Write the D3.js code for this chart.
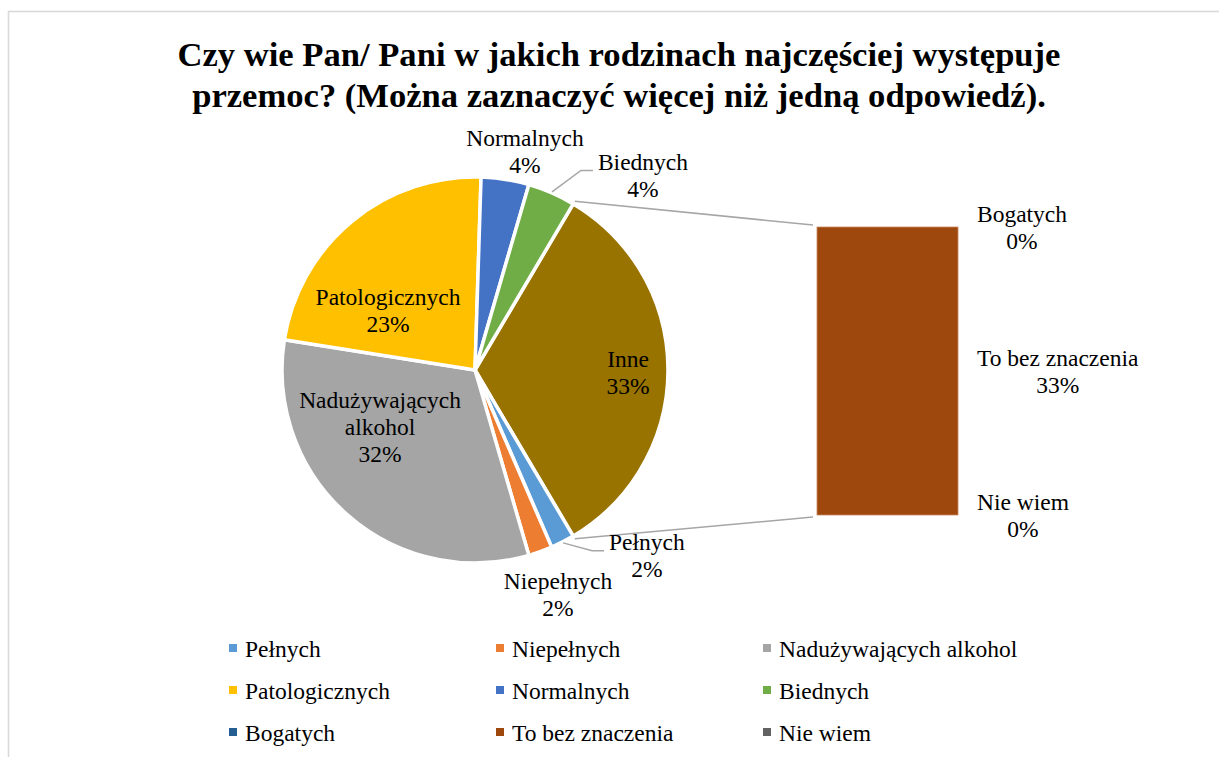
<!DOCTYPE html>
<html>
<head>
<meta charset="utf-8">
<script src="https://cdn.jsdelivr.net/npm/d3@7"></script>
</head>
<body style="margin:0">
<script>
// data (percent)
var pieCats = ["Inne", "Pełnych", "Niepełnych", "Nadużywających alkohol", "Patologicznych", "Normalnych", "Biednych"]
var pieVals = [33, 2, 2, 32, 23, 4, 4]
var barCats = ["Bogatych", "To bez znaczenia", "Nie wiem"]
var barVals = [0, 33, 0]
var legendCats = ["Pełnych", "Niepełnych", "Nadużywających alkohol", "Patologicznych", "Normalnych", "Biednych", "Bogatych", "To bez znaczenia", "Nie wiem"]

var colors = {
  "Pełnych": "#5B9BD5", "Niepełnych": "#ED7D31", "Nadużywających alkohol": "#A5A5A5",
  "Patologicznych": "#FFC000", "Normalnych": "#4472C4", "Biednych": "#70AD47",
  "Bogatych": "#255E91", "To bez znaczenia": "#9E480E", "Nie wiem": "#636363", "Inne": "#997300"
}

// label placement: [angle shift from slice middle (deg), radius factor]
var labelLayout = {
  "Inne": [0.9, 0.793], "Pełnych": [-15.8, 1.311], "Niepełnych": [-0.5, 1.24],
  "Nadużywających alkohol": [17.6, 0.574], "Patologicznych": [-16, 0.546],
  "Normalnych": [3.9, 1.159], "Biednych": [17.4, 1.332]
}
var labelLines = { "Nadużywających alkohol": ["Nadużywających", "alkohol"] }
var leaders = ["Pełnych", "Biednych"]

var FONT = "'Liberation Serif'"
var W = 1219, H = 757
var cx = 475, cy = 370, R = 193
var lineH = 27, fs = 23.5

// text width without touching svg layout
var ctx = document.createElement("canvas").getContext("2d")
ctx.font = fs + "px 'Liberation Serif', serif"
function textW(s) { return ctx.measureText(s).width }

var svg = d3.select("body").append("svg")
    .attr("width", W).attr("height", H)

svg.append("rect")
    .attr("x", 8.5).attr("y", 11.5).attr("width", 1400).attr("height", 1000)
    .attr("fill", "none").attr("stroke", "#d9d9d9").attr("stroke-width", 1.6)

// title
var title = svg.append("text")
    .attr("text-anchor", "middle")
    .attr("font-family", FONT)
    .attr("font-size", 34.6).attr("font-weight", "bold")
title.append("tspan").attr("x", 619).attr("y", 66).text("Czy wie Pan/ Pani w jakich rodzinach najczęściej występuje")
title.append("tspan").attr("x", 619).attr("y", 107).text("przemoc? (Można zaznaczyć więcej niż jedną odpowiedź).")

var total = d3.sum(pieVals)
var a0 = Math.PI / 2 - Math.PI * pieVals[0] / total

var pie = d3.pie().sort(null).startAngle(a0).endAngle(a0 + 2 * Math.PI)
var arcs = pie(pieVals)
arcs.forEach(function(a, i) { a.name = pieCats[i] })

var arc = d3.arc().innerRadius(0).outerRadius(R)

var g = svg.append("g").attr("transform", "translate(" + cx + "," + cy + ")")

g.selectAll("path.slice")
  .data(arcs)
  .enter().append("path")
    .attr("class", "slice")
    .attr("d", arc)
    .attr("fill", function(d) { return colors[d.name] })
    .attr("stroke", "#fff")
    .attr("stroke-width", 3.5)
    .attr("stroke-linejoin", "round")

function polar(angle, r) {
  return [r * Math.sin(angle), -r * Math.cos(angle)]
}

// bar of the "Inne" group
var barX = d3.scaleBand().domain(["Inne"]).range([817, 958])
var barY = d3.scaleLinear().domain([0, d3.sum(barVals)]).range([515, 227])

var ends = d3.cumsum(barVals.slice().reverse()).reverse()
var segs = barCats.map(function(c, i) {
  return { name: c, value: barVals[i], y1: ends[i], y0: ends[i] - barVals[i] }
})

// connector lines
var inne = arcs[0]
var pTop = polar(inne.startAngle, R + 3), pBot = polar(inne.endAngle, R + 3)
svg.append("line")
    .attr("x1", cx + pTop[0]).attr("y1", cy + pTop[1])
    .attr("x2", barX("Inne") - 4).attr("y2", barY.range()[1] - 2)
    .attr("stroke", "#a6a6a6").attr("stroke-width", 1.5)
svg.append("line")
    .attr("x1", cx + pBot[0]).attr("y1", cy + pBot[1])
    .attr("x2", barX("Inne") - 4).attr("y2", barY.range()[0] + 2)
    .attr("stroke", "#a6a6a6").attr("stroke-width", 1.5)

svg.selectAll("rect.seg")
  .data(segs)
  .enter().append("rect")
    .attr("class", "seg")
    .attr("x", barX("Inne"))
    .attr("width", barX.bandwidth())
    .attr("y", function(d) { return barY(d.y1) })
    .attr("height", function(d) { return barY(d.y0) - barY(d.y1) })
    .attr("fill", function(d) { return colors[d.name] })
    .attr("stroke", "#c98a5e").attr("stroke-width", 0.8)

// text block: lines centred on (x, y)
function block(x, y, lines) {
  var t = svg.append("text").attr("text-anchor", "middle")
      .attr("font-family", FONT).attr("font-size", fs)
  var first = y - (lines.length - 1) * lineH / 2 + 8
  lines.forEach(function(l, i) {
    t.append("tspan").attr("x", x).attr("y", first + i * lineH).text(l)
  })
  return t
}

// pie labels
arcs.forEach(function(a) {
  var lay = labelLayout[a.name]
  var mid = (a.startAngle + a.endAngle) / 2
  var p = polar(mid + lay[0] * Math.PI / 180, R * lay[1])
  var lines = (labelLines[a.name] || [a.name]).concat([Math.round(a.value / total * 100) + "%"])
  block(cx + p[0], cy + p[1], lines)
  if (leaders.indexOf(a.name) >= 0) {
    var half = d3.max(lines, textW) / 2
    var s = polar(mid, R + 1)
    var ly = cy + p[1] - 5
    var lx = cx + p[0] - half - 5
    svg.append("polyline")
        .attr("points", [[cx + s[0], cy + s[1]], [lx - 12, ly], [lx, ly]].join(" "))
        .attr("fill", "none").attr("stroke", "#a6a6a6").attr("stroke-width", 1.5)
  }
})

// bar labels
var barRight = barX("Inne") + barX.bandwidth()
segs.forEach(function(s) {
  var lines = [s.name, Math.round(s.value / total * 100) + "%"]
  var w = d3.max(lines, textW)
  block(barRight + 19 + w / 2, barY((s.y0 + s.y1) / 2), lines)
})

// legend
var lg = svg.append("g")
legendCats.forEach(function(c, i) {
  var col = i % 3, row = Math.floor(i / 3)
  var x = 229 + col * 267, y = 657 + row * 42
  lg.append("rect").attr("x", x).attr("y", y - 13).attr("width", 8).attr("height", 8)
    .attr("fill", colors[c])
  lg.append("text").attr("x", x + 16).attr("y", y)
    .attr("font-family", FONT).attr("font-size", fs).text(c)
})
</script>
</body>
</html>
